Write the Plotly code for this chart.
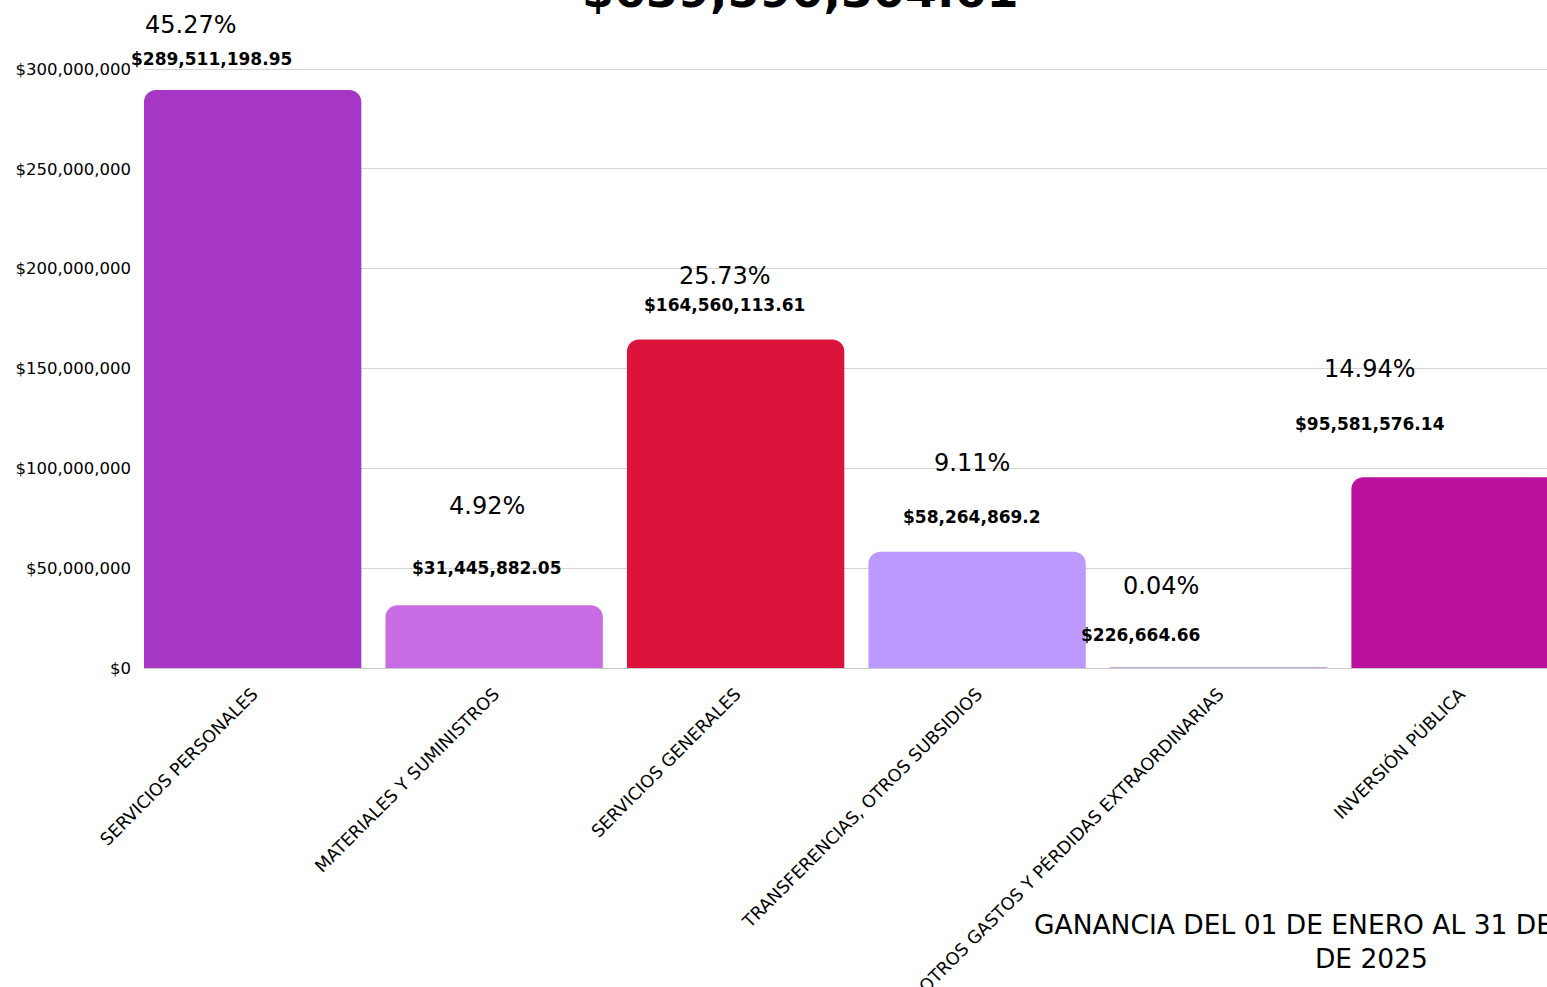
import plotly.graph_objects as go

categories = [
    "SERVICIOS PERSONALES",
    "MATERIALES Y SUMINISTROS",
    "SERVICIOS GENERALES",
    "TRANSFERENCIAS, OTROS SUBSIDIOS",
    "OTROS GASTOS Y PÉRDIDAS EXTRAORDINARIAS",
    "INVERSIÓN PÚBLICA",
]
values = [289511198.95, 31445882.05, 164560113.61, 58264869.2, 226664.66, 95581576.14]
amount_labels = ["$289,511,198.95", "$31,445,882.05", "$164,560,113.61",
                 "$58,264,869.2", "$226,664.66", "$95,581,576.14"]
percent_labels = ["45.27%", "4.92%", "25.73%", "9.11%", "0.04%", "14.94%"]
total_label = "$639,590,304.61"
subtitle = "GANANCIA DEL 01 DE ENERO AL 31 DE DICIEMBRE<br>DE 2025"
ytick_vals = [0, 50e6, 100e6, 150e6, 200e6, 250e6, 300e6]
ytick_text = ["$0", "$50,000,000", "$100,000,000", "$150,000,000",
              "$200,000,000", "$250,000,000", "$300,000,000"]

colors = ["#A636C4", "#C96CE4", "#DC143C", "#BB99FF", "#C8A2D8", "#BC119C"]
FONT = "DejaVu Sans"

# label offsets (px) relative to the bar top, center
pct_shift = [(-62, 65), (-7, 99), (-11, 63), (-5, 89), (-58, 82), (-90, 108)]
amt_shift = [(-41, 31), (-7, 37), (-11, 34), (-5, 35), (-78, 33), (-90, 53)]

fig = go.Figure(go.Bar(
    x=categories, y=values,
    marker=dict(color=colors, line=dict(width=0), cornerradius=12),
    hoverinfo="skip",
))

annotations = []
for i, c in enumerate(categories):
    annotations.append(dict(x=c, y=values[i], xref="x", yref="y", text=percent_labels[i],
                            showarrow=False, xshift=pct_shift[i][0], yshift=pct_shift[i][1],
                            font=dict(family=FONT, size=24, color="#000")))
    annotations.append(dict(x=c, y=values[i], xref="x", yref="y", text="<b>" + amount_labels[i] + "</b>",
                            showarrow=False, xshift=amt_shift[i][0], yshift=amt_shift[i][1],
                            font=dict(family=FONT, size=17, color="#000")))

annotations.append(dict(x=0.468, y=1.127, xref="paper", yref="paper", text="<b>" + total_label + "</b>",
                        showarrow=False, xanchor="center", yanchor="middle",
                        font=dict(family=FONT, size=46, color="#000")))
annotations.append(dict(x=0.8746, y=-0.398, xref="paper", yref="paper", text=subtitle,
                        showarrow=False, xanchor="center", yanchor="top", align="center",
                        font=dict(family=FONT, size=26.5, color="#000")))

fig.update_layout(
    width=1547, height=987,
    margin=dict(l=144, r=0, t=67, b=319, pad=0, autoexpand=False),
    paper_bgcolor="white", plot_bgcolor="white",
    bargap=0.1, showlegend=False,
    font=dict(family=FONT, color="#000"),
    annotations=annotations,
    xaxis=dict(range=[-0.45, 5.36], tickangle=-45, tickfont=dict(size=17.5, color="#000"),
               showgrid=False, showline=True, linecolor="#cccccc", linewidth=1,
               ticks="", ticklabelstandoff=8, fixedrange=True, automargin=False),
    yaxis=dict(range=[0, 301e6], tickvals=ytick_vals, ticktext=ytick_text,
               tickfont=dict(size=16.5, color="#000"), showgrid=True, gridcolor="#d4d4d4",
               gridwidth=1, zeroline=False, ticks="", ticklabelstandoff=12, fixedrange=True,
               automargin=False),
)

fig.write_html("out.html", config={"displayModeBar": False},
               post_script="document.body.style.margin='0';document.body.style.overflow='hidden';")
